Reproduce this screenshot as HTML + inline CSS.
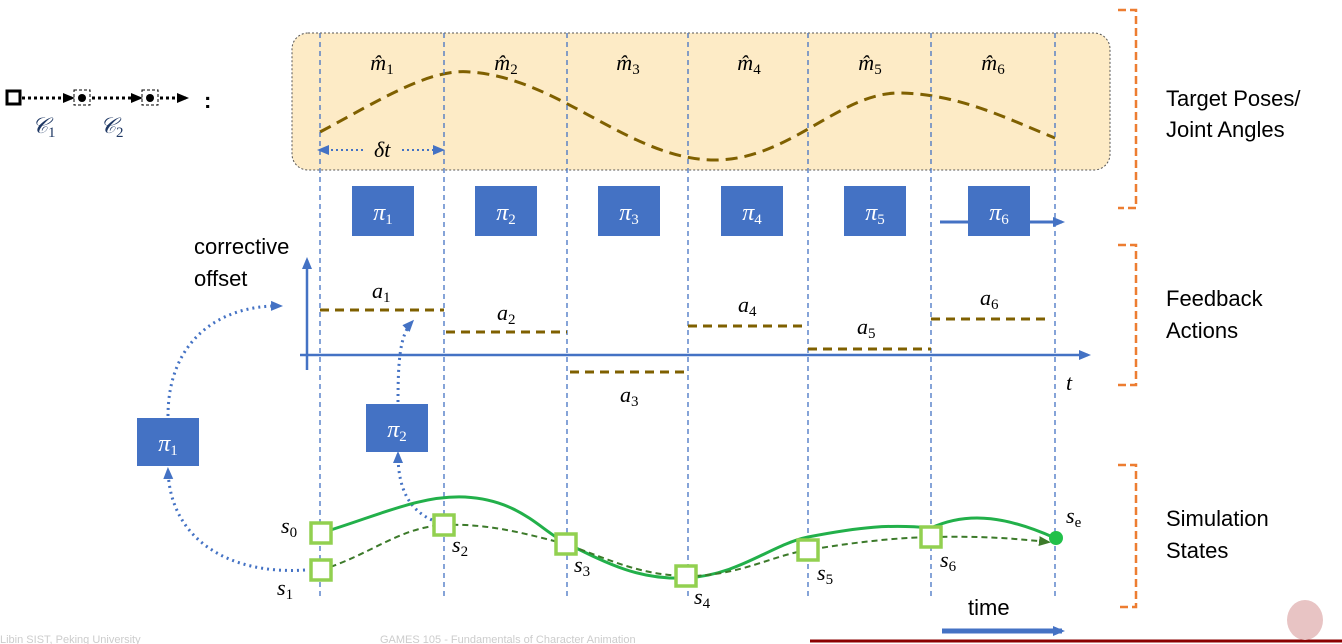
<!DOCTYPE html>
<html><head><meta charset="utf-8"><style>
body{margin:0;background:#fff;width:1342px;height:644px;overflow:hidden}
svg{display:block}
.m{font-family:"Liberation Serif",serif;font-style:italic;font-size:22px}
.m tspan,.pi tspan{font-style:normal}
.s{font-family:"Liberation Sans",sans-serif;font-size:22px}
.pi{font-family:"Liberation Serif",serif;font-style:italic;font-size:24px;fill:#fff}
</style></head><body>
<svg width="1342" height="644" viewBox="0 0 1342 644">
<defs>
<marker id="ab" markerUnits="userSpaceOnUse" markerWidth="12" markerHeight="12" refX="9" refY="6" orient="auto"><path d="M0,1L12,6L0,11z" fill="#4472c4"/></marker>
<marker id="abs" markerUnits="userSpaceOnUse" markerWidth="12" markerHeight="12" refX="3" refY="6" orient="auto-start-reverse"><path d="M0,1L12,6L0,11z" fill="#4472c4"/></marker>
<marker id="ag" markerUnits="userSpaceOnUse" markerWidth="12" markerHeight="12" refX="9" refY="6" orient="auto"><path d="M0,1L12,6L0,11z" fill="#3c7a2a"/></marker>
<marker id="ak" markerUnits="userSpaceOnUse" markerWidth="12" markerHeight="12" refX="9" refY="6" orient="auto"><path d="M0,1L12,6L0,11z" fill="#000"/></marker>
</defs>
<g>
<rect x="7" y="91" width="13" height="13" fill="#fff" stroke="#000" stroke-width="3"/>
<line x1="22" y1="98" x2="72" y2="98" stroke="#000" stroke-width="3" stroke-dasharray="3,3" marker-end="url(#ak)"/>
<rect x="74" y="90" width="16" height="15" fill="none" stroke="#000" stroke-dasharray="3,2"/><circle cx="82" cy="98" r="4"/>
<line x1="92" y1="98" x2="140" y2="98" stroke="#000" stroke-width="3" stroke-dasharray="3,3" marker-end="url(#ak)"/>
<rect x="142" y="90" width="16" height="15" fill="none" stroke="#000" stroke-dasharray="3,2"/><circle cx="150" cy="98" r="4"/>
<line x1="160" y1="98" x2="186" y2="98" stroke="#000" stroke-width="3" stroke-dasharray="3,3" marker-end="url(#ak)"/>
<text x="204" y="108" class="s" font-weight="bold">:</text>
<text x="32" y="133" class="m" fill="#1f3864">𝒞<tspan font-size="15" dy="4">1</tspan></text>
<text x="100" y="133" class="m" fill="#1f3864">𝒞<tspan font-size="15" dy="4">2</tspan></text>
</g>
<rect x="292" y="33" width="818" height="137" rx="16" fill="#fdebc6" stroke="#555" stroke-dasharray="2,2"/>
<path d="M320,132 C380,100 430,68 470,72 C560,78 630,160 715,160 C790,160 840,92 900,93 C960,94 1010,120 1055,138" fill="none" stroke="#7f6000" stroke-width="3" stroke-dasharray="12,7"/>
<g class="m" text-anchor="middle">
<text x="382" y="70">m̂<tspan font-size="15" dy="4">1</tspan></text>
<text x="506" y="70">m̂<tspan font-size="15" dy="4">2</tspan></text>
<text x="628" y="70">m̂<tspan font-size="15" dy="4">3</tspan></text>
<text x="749" y="70">m̂<tspan font-size="15" dy="4">4</tspan></text>
<text x="870" y="70">m̂<tspan font-size="15" dy="4">5</tspan></text>
<text x="993" y="70">m̂<tspan font-size="15" dy="4">6</tspan></text>
</g>
<line x1="326" y1="150" x2="366" y2="150" stroke="#4472c4" stroke-width="2" stroke-dasharray="2,3" marker-start="url(#abs)"/>
<line x1="402" y1="150" x2="442" y2="150" stroke="#4472c4" stroke-width="2" stroke-dasharray="2,3" marker-end="url(#ab)"/>
<text x="374" y="157" class="m" font-size="18">δt</text>
<g stroke="#4472c4" stroke-width="1.3" stroke-dasharray="5,4">
<line x1="320" y1="33" x2="320" y2="600"/><line x1="444" y1="33" x2="444" y2="600"/><line x1="567" y1="33" x2="567" y2="600"/>
<line x1="688" y1="33" x2="688" y2="600"/><line x1="808" y1="33" x2="808" y2="600"/><line x1="931" y1="33" x2="931" y2="600"/><line x1="1055" y1="33" x2="1055" y2="600"/>
</g>
<g>
<rect x="352" y="186" width="62" height="50" fill="#4472c4"/><text x="383" y="220" class="pi" text-anchor="middle">π<tspan font-size="15" dy="4">1</tspan></text>
<rect x="475" y="186" width="62" height="50" fill="#4472c4"/><text x="506" y="220" class="pi" text-anchor="middle">π<tspan font-size="15" dy="4">2</tspan></text>
<rect x="598" y="186" width="62" height="50" fill="#4472c4"/><text x="629" y="220" class="pi" text-anchor="middle">π<tspan font-size="15" dy="4">3</tspan></text>
<rect x="721" y="186" width="62" height="50" fill="#4472c4"/><text x="752" y="220" class="pi" text-anchor="middle">π<tspan font-size="15" dy="4">4</tspan></text>
<rect x="844" y="186" width="62" height="50" fill="#4472c4"/><text x="875" y="220" class="pi" text-anchor="middle">π<tspan font-size="15" dy="4">5</tspan></text>
<line x1="940" y1="222" x2="1062" y2="222" stroke="#4472c4" stroke-width="3" marker-end="url(#ab)"/>
<rect x="968" y="186" width="62" height="50" fill="#4472c4"/><text x="999" y="220" class="pi" text-anchor="middle">π<tspan font-size="15" dy="4">6</tspan></text>
</g>
<g>
<line x1="307" y1="370" x2="307" y2="260" stroke="#4472c4" stroke-width="2.5" marker-end="url(#ab)"/>
<line x1="300" y1="355" x2="1088" y2="355" stroke="#4472c4" stroke-width="2.5" marker-end="url(#ab)"/>
<text x="194" y="254" class="s">corrective</text><text x="194" y="286" class="s">offset</text>
<text x="1066" y="390" class="m">t</text>
</g>
<g stroke="#7f6000" stroke-width="3" stroke-dasharray="9,6">
<line x1="320" y1="310" x2="444" y2="310"/><line x1="446" y1="332" x2="567" y2="332"/><line x1="570" y1="372" x2="690" y2="372"/>
<line x1="688" y1="326" x2="808" y2="326"/><line x1="808" y1="349" x2="931" y2="349"/><line x1="931" y1="319" x2="1050" y2="319"/>
</g>
<g class="m">
<text x="372" y="298">a<tspan font-size="15" dy="4">1</tspan></text><text x="497" y="320">a<tspan font-size="15" dy="4">2</tspan></text>
<text x="620" y="402">a<tspan font-size="15" dy="4">3</tspan></text><text x="738" y="312">a<tspan font-size="15" dy="4">4</tspan></text>
<text x="857" y="334">a<tspan font-size="15" dy="4">5</tspan></text><text x="980" y="305">a<tspan font-size="15" dy="4">6</tspan></text>
</g>
<g>
<rect x="137" y="418" width="62" height="48" fill="#4472c4"/><text x="168" y="451" class="pi" text-anchor="middle">π<tspan font-size="15" dy="4">1</tspan></text>
<rect x="366" y="404" width="62" height="48" fill="#4472c4"/><text x="397" y="437" class="pi" text-anchor="middle">π<tspan font-size="15" dy="4">2</tspan></text>
<g fill="none" stroke="#4472c4" stroke-width="3" stroke-dasharray="2,4">
<path d="M305,570 C230,575 170,540 168,470" marker-end="url(#ab)"/>
<path d="M168,416 C168,340 220,305 280,306" marker-end="url(#ab)"/>
<path d="M432,520 C410,510 398,490 398,454" marker-end="url(#ab)"/>
<path d="M398,402 C398,360 400,335 412,322" marker-end="url(#ab)"/>
</g></g>
<path d="M321,533 C380,515 420,495 465,497 C520,500 540,530 566,543 C610,565 640,580 686,578 C740,575 770,545 808,537 C860,527 890,524 931,528 C970,510 1010,518 1055,538" fill="none" stroke="#22b04a" stroke-width="3"/>
<path d="M321,570 C370,555 400,527 444,525 C490,523 530,535 566,544 C610,560 640,575 686,576 C740,576 770,556 808,550 C850,543 890,538 931,537 C980,536 1010,538 1048,542" fill="none" stroke="#3c7a2a" stroke-width="2" stroke-dasharray="6,4" marker-end="url(#ag)"/>
<g fill="#fff" stroke="#92d050" stroke-width="3.5">
<rect x="311" y="523" width="20" height="20"/><rect x="311" y="560" width="20" height="20"/><rect x="434" y="515" width="20" height="20"/>
<rect x="556" y="534" width="20" height="20"/><rect x="676" y="566" width="20" height="20"/><rect x="798" y="540" width="20" height="20"/><rect x="921" y="527" width="20" height="20"/>
</g>
<circle cx="1056" cy="538" r="7" fill="#22c04a"/>
<g class="m">
<text x="281" y="533">s<tspan font-size="15" dy="4">0</tspan></text><text x="277" y="595">s<tspan font-size="15" dy="4">1</tspan></text>
<text x="452" y="552">s<tspan font-size="15" dy="4">2</tspan></text><text x="574" y="572">s<tspan font-size="15" dy="4">3</tspan></text>
<text x="694" y="604">s<tspan font-size="15" dy="4">4</tspan></text><text x="817" y="580">s<tspan font-size="15" dy="4">5</tspan></text>
<text x="940" y="567">s<tspan font-size="15" dy="4">6</tspan></text><text x="1066" y="523">s<tspan font-size="15" dy="4">e</tspan></text>
</g>
<text x="968" y="615" class="s">time</text>
<line x1="942" y1="631" x2="1062" y2="631" stroke="#4472c4" stroke-width="5" marker-end="url(#ab)"/>
<g fill="none" stroke="#ed7d31" stroke-width="2.5" stroke-dasharray="8,4">
<path d="M1118,10 H1136 V208 H1118"/><path d="M1118,245 H1136 V385 H1118"/><path d="M1118,465 H1136 V607 H1118"/>
</g>
<g class="s">
<text x="1166" y="106">Target Poses/</text><text x="1166" y="137">Joint Angles</text>
<text x="1166" y="306">Feedback</text><text x="1166" y="338">Actions</text>
<text x="1166" y="526">Simulation</text><text x="1166" y="558">States</text>
</g>
<line x1="810" y1="641" x2="1342" y2="641" stroke="#8b0000" stroke-width="3"/>
<text x="0" y="643" font-family="Liberation Sans" font-size="11" fill="#ccc">Libin SIST, Peking University</text>
<text x="380" y="643" font-family="Liberation Sans" font-size="11" fill="#ccc">GAMES 105 - Fundamentals of Character Animation</text>
<ellipse cx="1305" cy="620" rx="18" ry="20" fill="#e8c4c4"/>
</svg>
</body></html>
